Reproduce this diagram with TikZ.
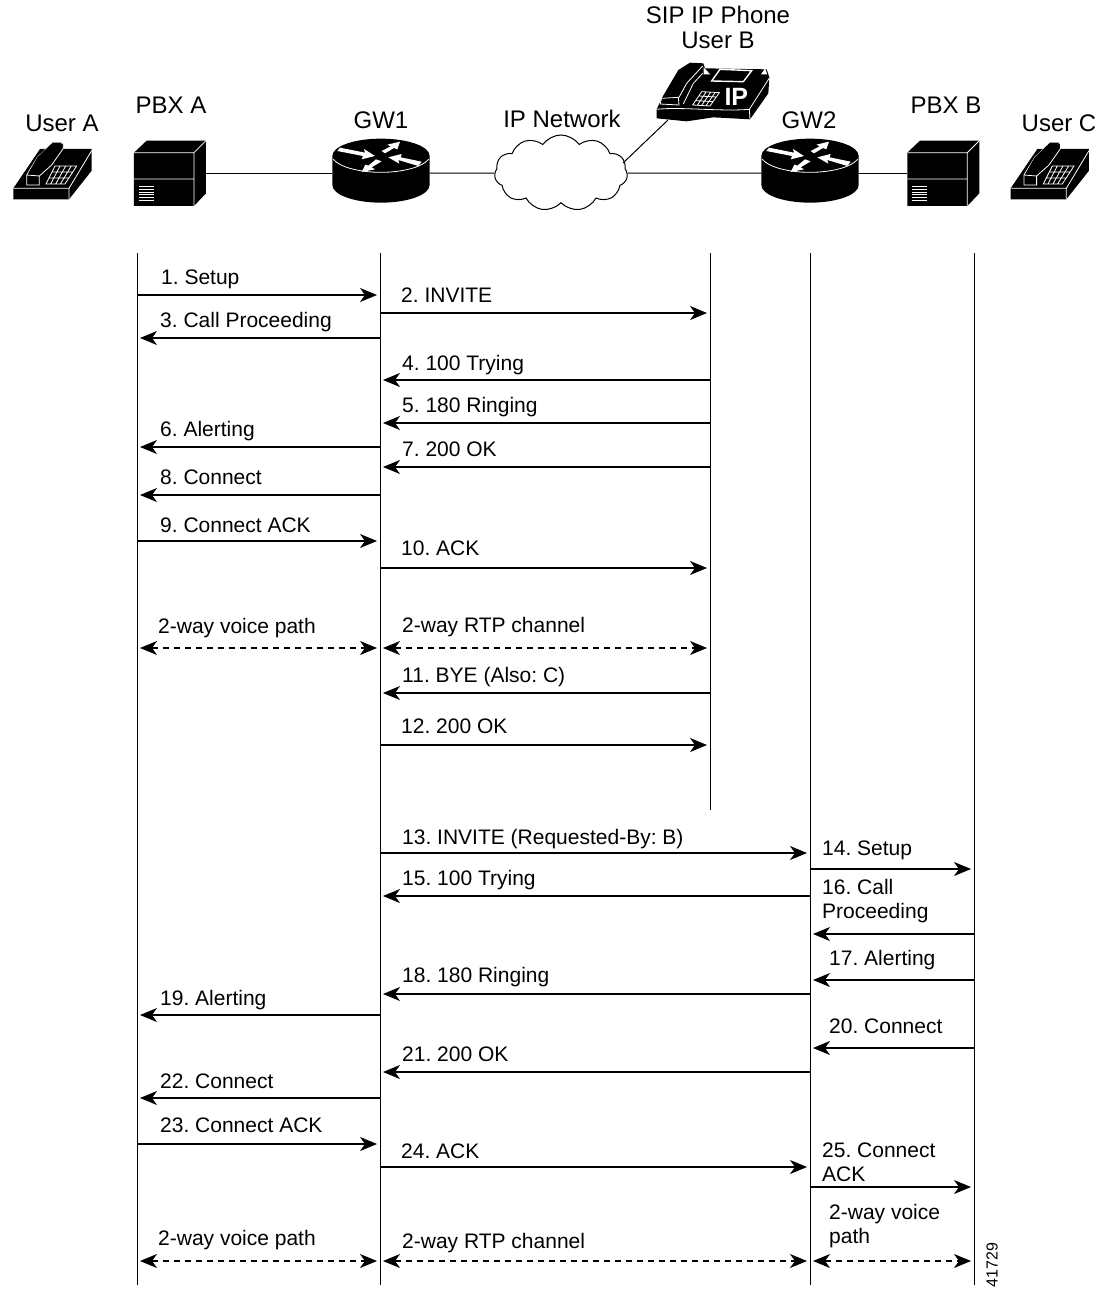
\documentclass[tikz,border=0pt]{standalone}
\usepackage{fontspec}
\setmainfont{Liberation Sans}
\usetikzlibrary{arrows.meta,shapes.symbols}
\tikzset{
  toplabel/.style={inner sep=0pt,font=\fontsize{24}{25}\selectfont,align=center},
  flowlabel/.style={inner sep=0pt,anchor=base west,font=\fontsize{21}{24}\selectfont},
  blocklabel/.style={inner sep=0pt,anchor=west,align=left,font=\fontsize{21}{24}\selectfont},
  lifeline/.style={line width=1pt},
  tip/.style={},
  msg/.style={line width=1.1pt,-{Stealth[length=17pt,width=14pt,inset=5pt]},shorten >=3pt},
  voice/.style={line width=1.1pt,dash pattern=on 6pt off 5pt,{Stealth[length=17pt,width=14pt,inset=5pt]}-{Stealth[length=17pt,width=14pt,inset=5pt]},shorten >=3pt,shorten <=3pt},
  link/.style={line width=1pt},
  device/.style={inner sep=0pt,minimum height=40pt},
  icon/.style={x=0.33333pt,y=-0.33333pt},
  whiteline/.style={draw=white,line width=.8pt},
  netcloud/.style={cloud,cloud puffs=11,cloud puff arc=110,aspect=1.75,draw,fill=white,line width=1pt,inner sep=0pt,minimum width=133pt,minimum height=76pt}
}
% --- icons, in zoomed reference coordinates
\newcommand{\deskphone}{%
  \fill (40,325) -- (120,207) -- (275,207) -- (275,272) -- (207,358) -- (40,358) -- cycle;
  \draw[whiteline] (40,325) -- (207,325) -- (275,212) (207,325) -- (207,358);
  \filldraw[whiteline,fill=black] (80,285) -- (112,232) -- (158,188) -- (190,190) -- (190,205) -- (155,255) -- (118,288) -- (118,315) -- (80,315) -- cycle;
  \draw[whiteline] (80,285) -- (118,288);
  \fill[black] (112,232) -- (158,188) -- (185,188) -- (150,240) -- (100,285) -- (85,280) -- cycle;
  \draw[whiteline] (165,258) -- (230,258) -- (195,312) -- (138,312) -- cycle
    (155,276) -- (218,276) (146,294) -- (206,294)
    (180,258) -- (152,312) (197,258) -- (167,312) (214,258) -- (181,312);
}
\newcommand{\pbxbox}{%
  \fill (402,218) -- (440,182) -- (618,182) -- (618,340) -- (582,378) -- (402,378) -- cycle;
  \draw[whiteline] (402,218) -- (582,218) -- (618,182) (582,218) -- (582,378) (402,297) -- (582,297);
  \draw[whiteline,line width=.9pt] (416,320) -- (462,320) (416,328) -- (462,328) (416,336) -- (462,336)
    (416,344) -- (462,344) (416,352) -- (462,352) (416,360) -- (462,360);
}
\newcommand{\routerbox}{%
  \fill (997,228) .. controls (997,199) and (1062,176) .. (1143,176) .. controls (1224,176) and (1289,199) .. (1289,228)
     -- (1289,315) .. controls (1289,344) and (1224,368) .. (1143,368) .. controls (1062,368) and (997,344) .. (997,315) -- cycle;
  \draw[whiteline] (1000,238) .. controls (1020,262) and (1080,277) .. (1143,277) .. controls (1206,277) and (1266,262) .. (1286,238);
  \fill[white] (1012,213) -- (1020,203) -- (1095,218) -- (1092,207) -- (1125,228) -- (1085,238) -- (1089,228) -- cycle;
  \fill[white] (1145,213) -- (1172,199) -- (1162,194) -- (1200,185) -- (1192,208) -- (1182,204) -- (1155,220) -- cycle;
  \fill[white] (1265,245) -- (1255,258) -- (1195,240) -- (1198,251) -- (1165,232) -- (1205,222) -- (1202,232) -- cycle;
  \fill[white] (1128,238) -- (1145,244) -- (1115,262) -- (1125,268) -- (1085,276) -- (1096,254) -- (1105,257) -- cycle;
}
% --- one message: id, from, to, y, label, label x, label baseline
\newcommand{\flow}[8][msg]{%
  \coordinate (s#2) at (L#3 |- 0,#5);
  \coordinate (e#2) at (L#4 |- 0,#5);
  \draw[#1] (s#2) -- (e#2);
  \node[flowlabel] (t#2) at (#7,#8) {#6};
}
\begin{document}
\frenchspacing
\begin{tikzpicture}[x=1pt,y=-1pt]
\useasboundingbox (0,0) rectangle (1106,1290);
% devices
\node[device,minimum width=72pt] (pbxa) at (170,173) {};
\node[device,minimum width=97pt] (gw1) at (381,173) {};
\node[netcloud] (net) at (561,173) {};
\node[device,minimum width=97pt] (gw2) at (810,173) {};
\node[device,minimum width=72pt] (pbxb) at (943.3,173) {};
\node[device,minimum width=112pt] (sip) at (716,90) {};
\coordinate (netjoin) at (623,163);
\coordinate (sipjoin) at (668,120);
\draw[link] (pbxa.east) -- (gw1.west);
\draw[link] (gw1.east) -- (net.west);
\draw[link] (net.east) -- (gw2.west);
\draw[link] (gw2.east) -- (pbxb.west);
\draw[link] (netjoin) -- (sipjoin);
\begin{scope}[shift={(0,80)},icon] \deskphone \pbxbox \routerbox \end{scope}
\begin{scope}[shift={(773.3,80)},icon] \pbxbox \end{scope}
\begin{scope}[shift={(429,80)},icon] \routerbox \end{scope}
\begin{scope}[shift={(997.3,80)},icon] \deskphone \end{scope}
% SIP phone
\begin{scope}[shift={(480,0)},icon]
  \fill (530,328) -- (545,295) -- (595,210) -- (630,188) -- (670,190) -- (675,205) -- (860,208) -- (868,232) -- (865,280) -- (810,358) -- (700,352) -- (620,364) -- (530,355) -- cycle;
  \draw[whiteline] (530,328) .. controls (600,320) and (720,335) .. (808,328) -- (868,234) (808,328) -- (810,358);
  \draw[whiteline] (545,295) -- (595,292) -- (597,315) -- (540,312) -- cycle;
  \draw[whiteline] (597,292) -- (620,250) -- (668,198) (610,312) -- (640,250) -- (668,220);
  \draw[whiteline,fill=white] (672,205) -- (688,222) -- (672,222) -- cycle (855,208) -- (860,222) -- (845,222) -- cycle;
  \filldraw[whiteline,fill=black,line width=1.4pt] (720,208) -- (815,212) -- (790,245) -- (695,243) -- cycle;
  \draw[whiteline] (665,275) -- (718,278) -- (690,318) -- (638,315) -- cycle
    (656,288) -- (709,291) (647,302) -- (699,305)
    (678,276) -- (652,316) (692,277) -- (665,316) (705,278) -- (678,317);
  \node[inner sep=0pt,text=white,font=\fontsize{25}{26}\selectfont\bfseries] (iplabel) at (769,292) {IP};
\end{scope}
% top labels
\node[toplabel] (lua) at (62,123) {User A};
\node[toplabel] (lpa) at (171,105) {PBX A};
\node[toplabel] (lg1) at (381,120) {GW1};
\node[toplabel] (lnet) at (562,119) {IP Network};
\node[toplabel] (lsip) at (718,27) {SIP IP Phone\\User B};
\node[toplabel] (lg2) at (809,120) {GW2};
\node[toplabel] (lpb) at (946,105) {PBX B};
\node[toplabel] (luc) at (1059,123) {User C};
% lifelines
\coordinate (La) at (137,253); \coordinate (Lae) at (137,1285);
\coordinate (Lg) at (380,253); \coordinate (Lge) at (380,1285);
\coordinate (Lp) at (710,253); \coordinate (Lpe) at (710,810);
\coordinate (Lh) at (810,253); \coordinate (Lhe) at (810,1285);
\coordinate (Lb) at (974,253); \coordinate (Lbe) at (974,1285);
\draw[lifeline] (La) -- (Lae);
\draw[lifeline] (Lg) -- (Lge);
\draw[lifeline] (Lp) -- (Lpe);
\draw[lifeline] (Lh) -- (Lhe);
\draw[lifeline] (Lb) -- (Lbe);
% messages
\flow{1}{a}{g}{295}{1. Setup}{161}{284}
\flow{2}{g}{p}{313}{2. INVITE}{401}{302}
\flow{3}{g}{a}{338}{3. Call Proceeding}{160}{327}
\flow{4}{p}{g}{380}{4. 100 Trying}{402}{370}
\flow{5}{p}{g}{423}{5. 180 Ringing}{402}{412}
\flow{6}{g}{a}{447}{6. Alerting}{160}{436}
\flow{7}{p}{g}{467}{7. 200 OK}{402}{456}
\flow{8}{g}{a}{495}{8. Connect}{160}{484}
\flow{9}{a}{g}{541}{9. Connect ACK}{160}{532}
\flow{10}{g}{p}{568}{10. ACK}{401}{555}
\flow[voice]{v1}{a}{g}{648}{2-way voice path}{158}{633}
\flow[voice]{r1}{g}{p}{648}{2-way RTP channel}{402}{632}
\flow{11}{p}{g}{693}{11. BYE (Also: C)}{402}{682}
\flow{12}{g}{p}{745}{12. 200 OK}{401}{733}
\flow{13}{g}{h}{853}{13. INVITE (Requested-By: B)}{402}{844}
\flow{14}{h}{b}{869}{14. Setup}{822}{855}
\flow{15}{h}{g}{896}{15. 100 Trying}{402}{885}
\coordinate (s16) at (Lb |- 0,934); \coordinate (e16) at (Lh |- 0,934);
\draw[msg] (s16) -- (e16);
\node[blocklabel] (t16) at (822,901) {16. Call\\Proceeding};
\flow{17}{b}{h}{980}{17. Alerting}{829}{965}
\flow{18}{h}{g}{994}{18. 180 Ringing}{402}{982}
\flow{19}{g}{a}{1015}{19. Alerting}{160}{1005}
\flow{20}{b}{h}{1048}{20. Connect}{829}{1033}
\flow{21}{h}{g}{1072}{21. 200 OK}{402}{1061}
\flow{22}{g}{a}{1098}{22. Connect}{160}{1088}
\flow{23}{a}{g}{1144}{23. Connect ACK}{160}{1132}
\flow{24}{g}{h}{1167}{24. ACK}{401}{1158}
\coordinate (s25) at (Lh |- 0,1187); \coordinate (e25) at (Lb |- 0,1187);
\draw[msg] (s25) -- (e25);
\node[blocklabel] (t25) at (822,1162) {25. Connect\\ACK};
\flow[voice]{v2}{a}{g}{1261}{2-way voice path}{158}{1245}
\flow[voice]{r2}{g}{h}{1261}{2-way RTP channel}{402}{1248}
\coordinate (sv3) at (Lh |- 0,1261); \coordinate (ev3) at (Lb |- 0,1261);
\draw[voice] (sv3) -- (ev3);
\node[blocklabel] (tv3) at (829,1226) {2-way voice\\path};
\node[inner sep=0pt,rotate=90,font=\fontsize{16}{18}\selectfont] (fig) at (992,1265) {41729};
\end{tikzpicture}
\end{document}
